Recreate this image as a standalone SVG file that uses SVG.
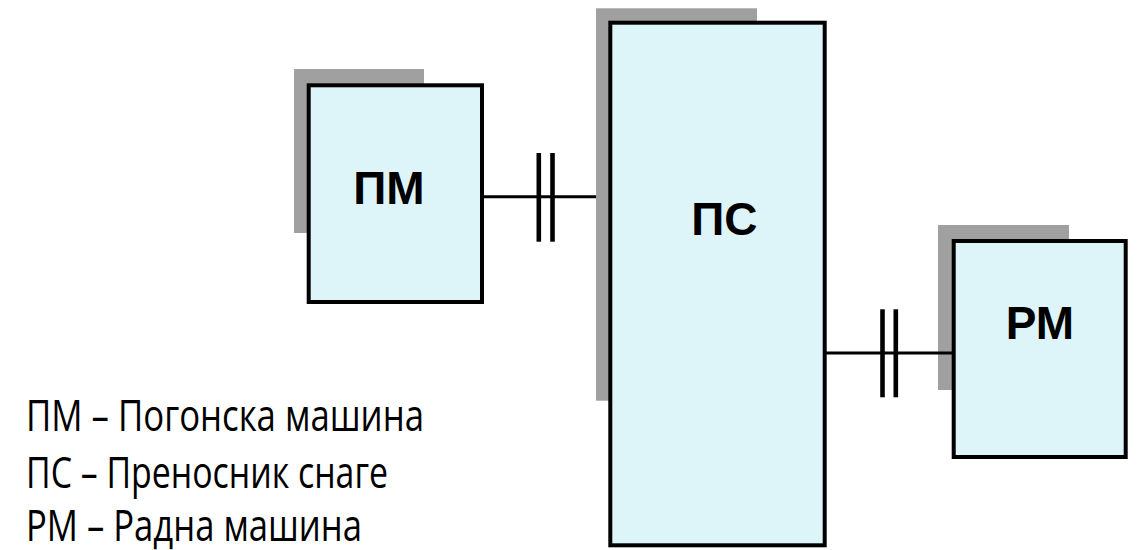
<svg xmlns="http://www.w3.org/2000/svg" width="1140" height="550" viewBox="0 0 1140 550">
<style>
.shadow{fill:#A0A0A0;}
.box{fill:#DDF4F9;stroke:#000;stroke-width:4;}
.lbl{font-family:"Liberation Sans",Arial,sans-serif;font-weight:bold;font-size:46px;fill:#000;text-anchor:middle;}
.shaft{stroke:#000;stroke-width:3;fill:none;}
.bar{stroke:#000;stroke-width:4.6;fill:none;}
.legend{font-family:"Open Sans","Noto Sans",sans-serif;font-size:44px;fill:#000;}
</style>
<rect width="1140" height="550" fill="#fff"/>
<g id="pm">
<rect class="shadow" x="294" y="69" width="130" height="164"/>
<rect class="box" x="308.7" y="85.3" width="173.3" height="216.7"/>
<text class="lbl" x="389" y="204">ПМ</text>
</g>
<g id="ps">
<rect class="shadow" x="596" y="8.3" width="161" height="392.4"/>
<rect class="box" x="610.3" y="22.7" width="214.4" height="522.6"/>
<text class="lbl" x="724.3" y="235">ПС</text>
</g>
<g id="rm">
<rect class="shadow" x="938" y="225" width="131" height="165"/>
<rect class="box" x="953.7" y="241" width="172" height="216"/>
<text class="lbl" x="1040" y="339">РМ</text>
</g>
<g id="connectors">
<line class="shaft" x1="484" y1="196.7" x2="596" y2="196.7"/>
<line class="bar" x1="538.8" y1="153" x2="538.8" y2="241.7"/>
<line class="bar" x1="552.5" y1="153" x2="552.5" y2="241.7"/>
<line class="shaft" x1="826" y1="353" x2="952" y2="353"/>
<line class="bar" x1="882.5" y1="309.3" x2="882.5" y2="397.3"/>
<line class="bar" x1="895.8" y1="309.3" x2="895.8" y2="397.3"/>
</g>
<g id="legend">
<text class="legend" x="26" y="430.7" textLength="398" lengthAdjust="spacingAndGlyphs">ПМ – Погонска машина</text>
<text class="legend" x="26" y="487.5" textLength="362" lengthAdjust="spacingAndGlyphs">ПС – Преносник снаге</text>
<text class="legend" x="26" y="540.5" textLength="336" lengthAdjust="spacingAndGlyphs">РМ – Радна машина</text>
</g>
</svg>
